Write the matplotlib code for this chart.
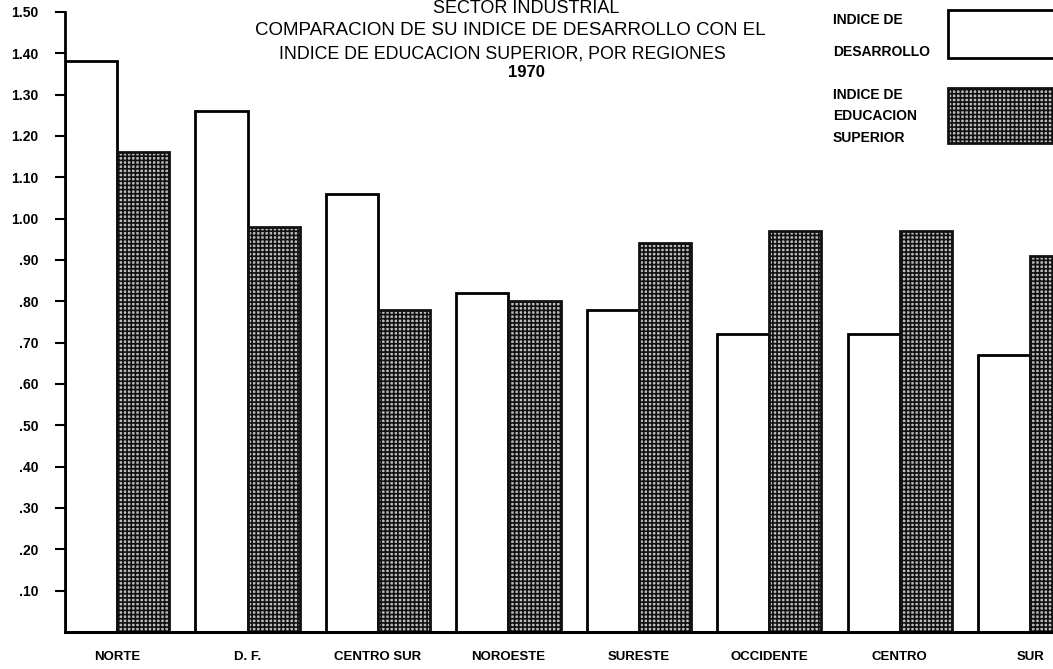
import numpy as np
import matplotlib.pyplot as plt
from matplotlib.patches import Rectangle

plt.rcParams['font.family'] = ['Liberation Sans', 'DejaVu Sans']
plt.rcParams['hatch.linewidth'] = 1.2

regiones = ['NORTE', 'D. F.', 'CENTRO SUR', 'NOROESTE', 'SURESTE', 'OCCIDENTE', 'CENTRO', 'SUR']
ind_desarrollo = [1.38, 1.26, 1.06, 0.82, 0.78, 0.72, 0.72, 0.67]
ind_educacion = [1.16, 0.98, 0.78, 0.80, 0.94, 0.97, 0.97, 0.91]
yticks = [0.10, 0.20, 0.30, 0.40, 0.50, 0.60, 0.70, 0.80, 0.90, 1.00, 1.10, 1.20, 1.30, 1.40, 1.50]
ytick_labels = ['.10', '.20', '.30', '.40', '.50', '.60', '.70', '.80', '.90',
                '1.00', '1.10', '1.20', '1.30', '1.40', '1.50']

fig = plt.figure(figsize=(10.53, 6.69), dpi=100)
ax = fig.add_axes([0.0617, 0.0553, 0.96, 0.927])

x = np.arange(len(regiones))
w = 0.4
ax.bar(x - w/2, ind_desarrollo, w, color='white', edgecolor='black', linewidth=2)
ax.bar(x + w/2, ind_educacion, w, color='#bdbdbd', edgecolor='#111111', linewidth=2, hatch='++++')

ax.set_xlim(-0.4, 7.35)
ax.set_ylim(0, 1.5)
ax.set_yticks(yticks)
ax.set_yticklabels(ytick_labels, fontsize=10, fontweight='bold')
ax.set_xticks(x)
ax.set_xticklabels(regiones, fontsize=9.5, fontweight='bold')
ax.tick_params(axis='x', length=0, pad=14)
ax.tick_params(axis='y', length=7, width=1.5, direction='out', pad=12)
for s in ['top', 'right']:
    ax.spines[s].set_visible(False)
ax.spines['left'].set_linewidth(2)
ax.spines['bottom'].set_linewidth(2.2)

# titulo
fig.text(0.50, 0.988, 'SECTOR INDUSTRIAL', ha='center', va='center', fontsize=13)
fig.text(0.485, 0.955, 'COMPARACION DE SU INDICE DE DESARROLLO CON EL', ha='center', va='center', fontsize=13.5)
fig.text(0.477, 0.919, 'INDICE DE EDUCACION SUPERIOR, POR REGIONES', ha='center', va='center', fontsize=12.8)
fig.text(0.50, 0.892, '1970', ha='center', va='center', fontsize=12, fontweight='bold')

# leyenda
lx = 0.791
fig.text(lx, 0.97, 'INDICE DE', ha='left', va='center', fontsize=10, fontweight='bold')
fig.text(lx, 0.922, 'DESARROLLO', ha='left', va='center', fontsize=10, fontweight='bold')
fig.add_artist(Rectangle((0.900, 0.913), 0.12, 0.072, transform=fig.transFigure,
                         facecolor='white', edgecolor='black', linewidth=2))
fig.text(lx, 0.858, 'INDICE DE', ha='left', va='center', fontsize=10, fontweight='bold')
fig.text(lx, 0.826, 'EDUCACION', ha='left', va='center', fontsize=10, fontweight='bold')
fig.text(lx, 0.794, 'SUPERIOR', ha='left', va='center', fontsize=10, fontweight='bold')
fig.add_artist(Rectangle((0.900, 0.786), 0.12, 0.082, transform=fig.transFigure,
                         facecolor='#bdbdbd', edgecolor='#111111', linewidth=2, hatch='++++'))

fig.savefig('out.png', dpi=100)
